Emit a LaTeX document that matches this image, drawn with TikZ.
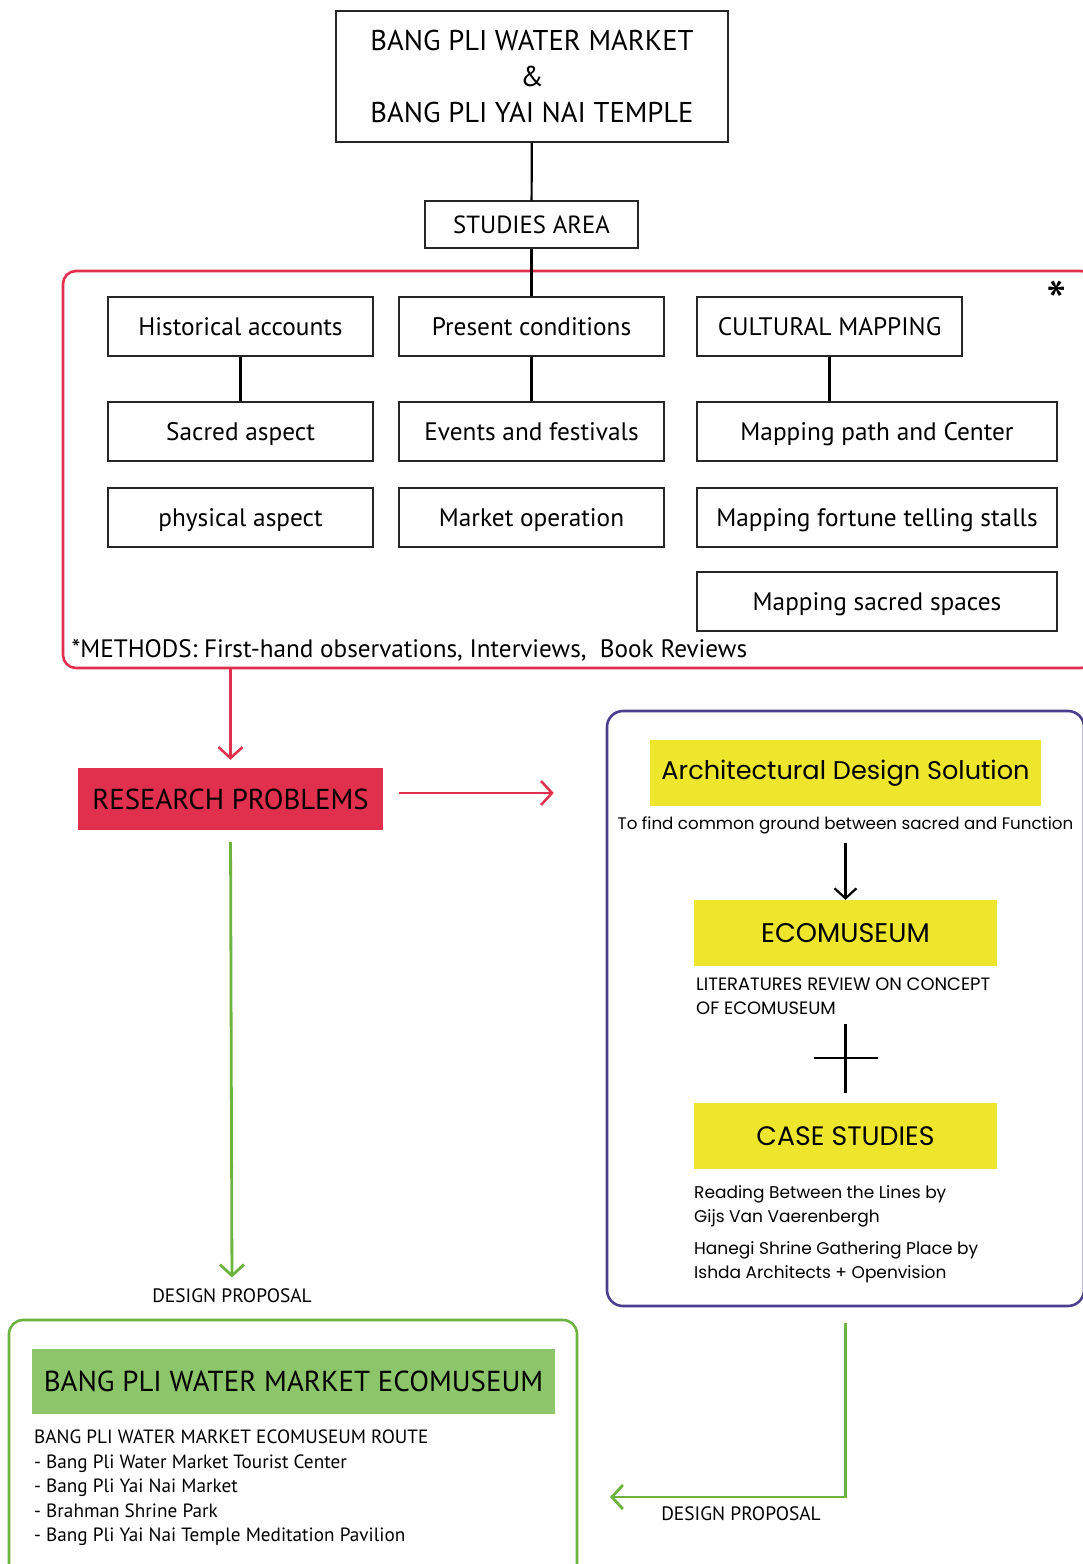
\documentclass[tikz,border=0pt]{standalone}
\usepackage{fontspec}
\setmainfont{PT Sans}
\newfontfamily\gothic{Poppins}
\usetikzlibrary{arrows.meta,positioning}

\definecolor{bpred}{HTML}{E1304E}
\definecolor{bpgreen}{HTML}{6DB33F}
\definecolor{bplime}{HTML}{8CC56A}
\definecolor{bpyellow}{HTML}{EDE62D}
\definecolor{bppurple}{HTML}{4A3F8F}

\begin{document}
\begin{tikzpicture}[x=1pt,y=-1pt,
    box/.style={rectangle,draw=black!85,line width=1.4pt,inner sep=0pt},
    cell/.style={box,minimum height=59,text height=18.5pt,text depth=0pt,font=\fontsize{25.3}{28}\selectfont},
    link/.style={line width=2.2pt},
    redarrow/.style={draw=bpred,line width=2.5pt,-{Straight Barb[length=11pt,width=24pt,line width=2.5pt]}},
    greenarrow/.style={draw=bpgreen,line width=2.8pt,-{Straight Barb[length=11pt,width=24pt,line width=2.8pt]}},
    blackarrow/.style={link,-{Straight Barb[length=10pt,width=22pt,line width=2.2pt]}},
    frame/.style={line width=2.6pt,rounded corners=13pt,inner sep=0pt},
    tag/.style={fill=#1,inner sep=0pt}]
    \useasboundingbox (0,0) rectangle (1082,1564);

    % studies
    \node[box,minimum width=392,minimum height=131,align=center,font=\fontsize{28.6}{36}\selectfont] (site) at (532,76.5)
      {BANG PLI WATER MARKET\\\&\\BANG PLI YAI NAI TEMPLE};
    \node[box,minimum width=213,minimum height=47,font=\fontsize{24.8}{28}\selectfont] (area) at (531.5,224.5) {STUDIES AREA};
    \node[frame,draw=bpred,minimum width=1031,minimum height=397] (survey) at (578.5,469.5) {};
    \node[font=\fontsize{58}{58}\selectfont] (star) at (1057,302) {*};
    \foreach \name/\txt/\x/\y in {hist/Historical accounts/240.5/326.5, sacred/Sacred aspect/240.5/431.5,
        phys/physical aspect/240.5/517.5, pres/Present conditions/531.5/326.5,
        events/Events and festivals/531.5/431.5, market/Market operation/531.5/517.5,
        cult/CULTURAL MAPPING/829.5/326.5} {
      \node[cell,minimum width=265] (\name) at (\x,\y) {\txt};
    }
    \foreach \name/\txt/\y in {path/Mapping path and Center/431.5, stalls/Mapping fortune telling stalls/517.5,
        spaces/Mapping sacred spaces/601.5} {
      \node[cell,minimum width=360] (\name) at (877,\y) {\txt};
    }
    \node[anchor=west,font=\fontsize{25.2}{28}\selectfont] (methods) at (68,650)
      {*METHODS: First-hand observations, Interviews,\ \ Book Reviews};
    \draw[link] (site) -- (area);
    \draw[link] (area) -- (pres);
    \draw[link] (hist) -- (sacred);
    \draw[link] (pres) -- (events);
    \draw[link] (cult) -- (cult |- path.north);

    % problems
    \node[tag=bpred,minimum width=305,minimum height=62,font=\fontsize{28.8}{32}\selectfont] (problems) at (230.5,799) {RESEARCH PROBLEMS};
    \draw[redarrow,shorten >=8pt] (problems.north |- survey.south) -- (problems.north);

    % solution
    \node[frame,draw=bppurple,rounded corners=16pt,minimum width=477,minimum height=595] (panel) at (845.5,1008.5) {};
    \draw[redarrow,shorten <=16pt,shorten >=52pt] ([yshift=6pt]problems.east) -- ([yshift=6pt]problems.east -| panel.west);
    \node[tag=bpyellow,minimum width=391,minimum height=66,font=\gothic\fontsize{25.6}{30}\selectfont] (ads) at (845.5,773) {Architectural Design Solution};
    \node[font=\gothic\fontsize{16.7}{20}\selectfont] (goal) at (845.5,825) {To find common ground between sacred and Function};
    \node[tag=bpyellow,minimum width=303,minimum height=66,font=\gothic\fontsize{27}{30}\selectfont] (eco) at (845.5,933) {ECOMUSEUM};
    \node[anchor=north west,align=left,inner sep=0pt,font=\gothic\fontsize{17.9}{24}\selectfont] (lit) at (696,978)
      {LITERATURES REVIEW ON CONCEPT\\OF ECOMUSEUM};
    \node[tag=bpyellow,minimum width=303,minimum height=66,font=\gothic\fontsize{26.7}{30}\selectfont] (cases) at (845.5,1136) {CASE STUDIES};
    \node[anchor=north west,align=left,inner sep=0pt,font=\gothic\fontsize{17}{24}\selectfont] (reading) at (694,1185)
      {Reading Between the Lines by\\Gijs Van Vaerenbergh};
    \node[anchor=north west,align=left,inner sep=0pt,font=\gothic\fontsize{17}{24}\selectfont] (hanegi) at (694,1241)
      {Hanegi Shrine Gathering Place by\\Ishda Architects + Openvision};
    \draw[blackarrow,shorten <=6pt] (goal) -- (eco);
    \coordinate (plus) at (845.5,1058);
    \draw[link] (plus) +(0,-34) -- +(0,35);
    \draw[link] (plus) +(-32,0) -- +(32,0);

    % proposal
    \node[font=\fontsize{19.4}{22}\selectfont] (propleft) at (232,1296) {DESIGN PROPOSAL};
    \node[font=\fontsize{19.4}{22}\selectfont] (propright) at (741,1514) {DESIGN PROPOSAL};
    \draw[greenarrow,shorten <=12pt,shorten >=8pt] (problems.south) -- (propleft.north);
    \node[frame,draw=bpgreen,rounded corners=14pt,minimum width=568,minimum height=270] (result) at (293,1455) {};
    \node[tag=bplime,minimum width=523,minimum height=65,font=\fontsize{28.9}{34}\selectfont] (ecomuseum) at (293.5,1381.5)
      {BANG PLI WATER MARKET ECOMUSEUM};
    \node[anchor=north west,align=left,inner sep=0pt,font=\fontsize{19.2}{24.4}\selectfont] (route) at (34,1430)
      {BANG PLI WATER MARKET ECOMUSEUM ROUTE\\
       - Bang Pli Water Market Tourist Center\\
       - Bang Pli Yai Nai Market\\
       - Brahman Shrine Park\\
       - Bang Pli Yai Nai Temple Meditation Pavilion};
    \coordinate (back) at (610,1497);
    \draw[greenarrow,shorten <=16pt] (panel.south) |- (back);
\end{tikzpicture}
\end{document}
